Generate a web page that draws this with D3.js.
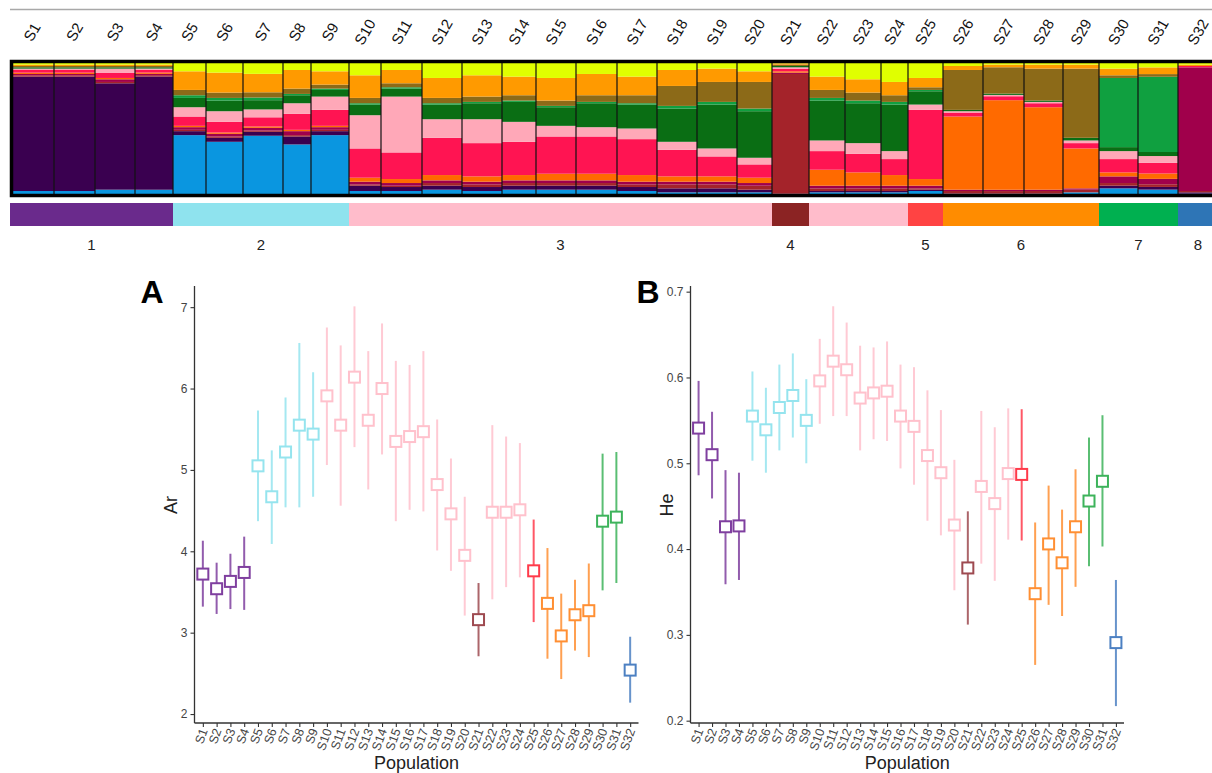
<!DOCTYPE html>
<html>
  <head>
    <meta charset="utf-8">
    <title>Structure, Ar and He</title>
    <script src="https://cdn.jsdelivr.net/npm/d3@7/dist/d3.min.js"></script>
    <style>
      body { margin: 0; background: #fff; }
      text { font-family: "Liberation Sans", Arial, sans-serif; }
    </style>
  </head>
  <body>
    <svg width="1212" height="773" id="mainsvg"></svg>
    <script>
      // ---- data ----
      const pops = d3.range(1, 33).map(i => 'S' + i);
      // relative width of each population in the structure plot (individuals)
      const nInd = [44,41,40,38,33,37,40,28,38,32,41,40,40,34,40,41,40,40,40,35,37,36,36,27,35,40,41,39,36,39,40,40];
      // genetic group of each population
      const groupOf = [1,1,1,1,2,2,2,2,2,3,3,3,3,3,3,3,3,3,3,3,4,3,3,3,5,6,6,6,6,7,7,8];
      const groupBarColors = ['#6a2a8c','#8fe3ee','#ffbccb','#8b2323','#ff4343','#ff8c00','#00b050','#2e75b6'];
      const groupPointColors = ['#7f3f9f','#95e4ee','#ffc1cc','#9e4a50','#ff3a4a','#ff8f33','#3db35b','#4c80c2'];

      // mean membership (per population) for each structure cluster, bottom to top
      const clusters = ['blue','purple','darkred','maroon','orangered','crimson','pink','darkgreen','green','olive','orange','yellow'];
      const clusterColors = ['#0a96e0','#3a0050','#a4232a','#a0004b','#ff6a00','#ff1452','#ffa8b8','#0a6e14','#10a040','#8c6a18','#ff9a00','#e0ff00'];
      const qBlue      = [.03,.03,.04,.04,.45,.40,.45,.38,.45,.03,.03,.04,.03,.04,.04,.04,.03,.02,.02,.02,.00,.02,.02,.02,.03,.01,.01,.01,.02,.05,.04,.01];
      const qPurple    = [.86,.86,.80,.86,.03,.03,.03,.06,.03,.04,.03,.03,.03,.03,.03,.03,.03,.03,.03,.02,.01,.01,.01,.01,.01,.00,.00,.00,.00,.02,.02,.01];
      const qDarkred   = [.01,.01,.01,.01,.01,.01,.01,.01,.01,.01,.01,.02,.02,.02,.02,.02,.02,.03,.03,.03,.90,.02,.02,.02,.01,.02,.02,.02,.02,.02,.02,.01];
      const qMaroon    = [.01,.01,.02,.01,.02,.02,.02,.03,.02,.02,.02,.02,.02,.02,.02,.02,.02,.02,.02,.02,.01,.02,.02,.02,.02,.01,.01,.01,.01,.05,.04,.93];
      const qOrangered = [.01,.01,.01,.01,.01,.01,.01,.01,.01,.03,.03,.04,.04,.04,.05,.05,.05,.04,.04,.04,.01,.12,.10,.08,.05,.55,.68,.62,.30,.03,.04,.00];
      const qCrimson   = [.02,.02,.04,.02,.07,.08,.07,.12,.12,.22,.20,.28,.25,.25,.28,.28,.27,.20,.15,.10,.02,.14,.14,.12,.52,.03,.03,.03,.04,.10,.08,.01];
      const qPink      = [.01,.01,.03,.01,.07,.08,.06,.08,.10,.25,.42,.14,.18,.15,.08,.07,.08,.06,.06,.05,.01,.08,.08,.06,.04,.01,.01,.01,.02,.06,.05,.00];
      const qDarkgreen = [.01,.01,.01,.01,.07,.08,.07,.06,.05,.08,.06,.11,.12,.15,.14,.18,.18,.25,.33,.35,.01,.30,.30,.35,.10,.01,.01,.01,.02,.03,.03,.00];
      const qGreen     = [.00,.00,.00,.00,.02,.02,.02,.01,.01,.01,.01,.01,.01,.01,.01,.01,.01,.02,.02,.02,.00,.02,.02,.02,.01,.00,.00,.00,.00,.52,.56,.00];
      const qOlive     = [.01,.01,.01,.01,.04,.04,.04,.04,.03,.04,.03,.04,.04,.04,.04,.05,.06,.15,.15,.20,.01,.06,.06,.05,.02,.30,.20,.24,.52,.02,.02,.00];
      const qOrange    = [.01,.01,.01,.01,.14,.15,.14,.14,.10,.17,.10,.15,.16,.14,.17,.16,.14,.12,.10,.08,.01,.10,.10,.10,.07,.03,.02,.03,.03,.05,.05,.01];
      const qYellow    = [.02,.02,.02,.02,.07,.08,.09,.06,.07,.10,.06,.12,.10,.11,.12,.09,.11,.06,.05,.07,.01,.11,.13,.15,.12,.03,.02,.02,.02,.05,.04,.02];
      const qAll = [qBlue,qPurple,qDarkred,qMaroon,qOrangered,qCrimson,qPink,qDarkgreen,qGreen,qOlive,qOrange,qYellow];

      // allelic richness (Ar) and expected heterozygosity (He): mean and interval
      const arMean = [3.72,3.54,3.63,3.74,5.05,4.67,5.22,5.55,5.44,5.91,5.55,6.14,5.61,6.00,5.35,5.41,5.47,4.82,4.46,3.95,3.16,4.48,4.48,4.51,3.76,3.36,2.96,3.22,3.27,4.37,4.42,2.54];
      const arLow  = [3.32,3.23,3.29,3.28,4.37,4.09,4.54,4.54,4.67,5.06,4.56,5.28,4.76,5.19,4.37,4.51,4.49,4.01,3.76,3.21,2.71,3.41,3.56,3.68,3.13,2.68,2.43,2.78,2.70,3.52,3.61,2.14];
      const arHigh = [4.13,3.86,3.97,4.18,5.73,5.24,5.89,6.56,6.20,6.75,6.53,7.01,6.46,6.80,6.34,6.29,6.46,5.62,5.14,4.67,3.61,5.55,5.41,5.33,4.39,4.04,3.48,3.65,3.85,5.20,5.22,2.95];
      const heMean = [0.541,0.510,0.426,0.427,0.555,0.539,0.565,0.579,0.550,0.596,0.619,0.609,0.576,0.582,0.584,0.555,0.543,0.509,0.489,0.428,0.378,0.473,0.453,0.488,0.487,0.348,0.406,0.384,0.426,0.456,0.479,0.291];
      const heLow  = [0.486,0.459,0.359,0.364,0.503,0.489,0.515,0.530,0.500,0.546,0.555,0.555,0.515,0.528,0.526,0.494,0.475,0.433,0.416,0.352,0.312,0.383,0.363,0.411,0.410,0.265,0.335,0.322,0.356,0.380,0.403,0.217];
      const heHigh = [0.596,0.560,0.492,0.489,0.607,0.588,0.615,0.628,0.598,0.645,0.683,0.664,0.637,0.635,0.642,0.615,0.612,0.585,0.562,0.504,0.444,0.561,0.542,0.564,0.563,0.431,0.474,0.446,0.493,0.530,0.556,0.364];
      const arTicks = [2,3,4,5,6,7];
      const heTicks = [0.2,0.3,0.4,0.5,0.6,0.7];

      const svg = d3.select('#mainsvg');

      // ---- structure plot ----
      const cum = [0];
      nInd.forEach((n, i) => cum.push(cum[i] + n));
      const sx = d3.scaleLinear().domain([0, cum[cum.length - 1]]).range([10, 1218]);
      const sy = d3.scaleLinear().domain([0, 1]).range([195, 62]);

      svg.append('line').attr('x1', 10).attr('x2', 1212).attr('y1', 9.5).attr('y2', 9.5)
        .attr('stroke', '#a8a8a8').attr('stroke-width', 1.5);

      const rows = pops.map((p, i) => {
        const r = {pop: p, i: i};
        clusters.forEach((c, k) => r[c] = qAll[k][i]);
        return r;
      });
      const stacked = d3.stack().keys(clusters).offset(d3.stackOffsetExpand)(rows);
      const sg = svg.append('g');
      sg.selectAll('g').data(stacked).join('g')
        .attr('fill', (d, k) => clusterColors[k])
        .selectAll('rect').data(d => d).join('rect')
        .attr('x', d => sx(cum[d.data.i]))
        .attr('width', d => sx(cum[d.data.i + 1]) - sx(cum[d.data.i]))
        .attr('y', d => sy(d[1]))
        .attr('height', d => sy(d[0]) - sy(d[1]));
      // population separators
      sg.selectAll('line.sep').data(cum.slice(1, -1)).join('line')
        .attr('class', 'sep')
        .attr('x1', d => sx(d)).attr('x2', d => sx(d))
        .attr('y1', 62).attr('y2', 195)
        .attr('stroke', '#111').attr('stroke-width', 1.2);
      svg.append('rect').attr('x', 11.5).attr('y', 61.5).attr('width', 1212).attr('height', 134)
        .attr('fill', 'none').attr('stroke', '#000').attr('stroke-width', 3.5);
      // population labels
      svg.selectAll('text.plab').data(pops).join('text')
        .attr('class', 'plab')
        .attr('transform', (d, i) => `translate(${(sx(cum[i]) + sx(cum[i + 1])) / 2}, 32) rotate(-60)`)
        .attr('text-anchor', 'middle').attr('dy', '0.35em')
        .attr('font-size', 15).attr('fill', '#111')
        .text(d => d);

      // group colour band
      const runs = [];
      groupOf.forEach((g, i) => {
        const last = runs[runs.length - 1];
        if (last && last.g === g) { last.end = i + 1; }
        else { runs.push({g: g, start: i, end: i + 1}); }
      });
      svg.selectAll('rect.band').data(runs).join('rect')
        .attr('class', 'band')
        .attr('x', d => sx(cum[d.start]))
        .attr('width', d => sx(cum[d.end]) - sx(cum[d.start]))
        .attr('y', 203).attr('height', 23)
        .attr('fill', d => groupBarColors[d.g - 1]);
      const seen = new Set();
      const labelRuns = runs.filter(r => { if (seen.has(r.g)) return false; seen.add(r.g); return true; });
      svg.selectAll('text.glab').data(labelRuns).join('text')
        .attr('class', 'glab')
        .attr('x', d => (sx(cum[d.start]) + sx(cum[d.end])) / 2)
        .attr('y', 250)
        .attr('text-anchor', 'middle').attr('font-size', 15).attr('fill', '#222')
        .text(d => d.g);

      // ---- dot plots ----
      function panel(opt) {
        const x = d3.scalePoint().domain(pops).range([opt.x0, opt.x1]).padding(opt.pad);
        const y = d3.scaleLinear().domain(opt.ydom).range([723, 286]);
        const g = svg.append('g');

        const yAxis = g.append('g').attr('transform', `translate(${opt.x0},0)`)
          .call(d3.axisLeft(y).tickValues(opt.ticks).tickSize(4).tickSizeOuter(0).tickPadding(3)
            .tickFormat(opt.fmt));
        const xAxis = g.append('g').attr('transform', 'translate(0,723)')
          .call(d3.axisBottom(x).tickSize(4).tickSizeOuter(0).tickFormat(''));
        [yAxis, xAxis].forEach(a => {
          a.select('.domain').attr('stroke', '#333').attr('stroke-width', 1.3);
          a.selectAll('.tick line').attr('stroke', '#333').attr('stroke-width', 1.1);
          a.selectAll('.tick text').attr('font-size', 12).attr('fill', '#444')
            .attr('font-family', '"Liberation Sans", Arial, sans-serif');
        });
        // fix the x domain line so it spans the full range
        xAxis.select('.domain').attr('d', `M${opt.x0},0H${opt.x1}`);
        yAxis.select('.domain').attr('d', `M0,${y.range()[0]}V${y.range()[1]}`);

        g.selectAll('text.xt').data(pops).join('text')
          .attr('class', 'xt')
          .attr('transform', d => `translate(${x(d) + 1},729) rotate(-70)`)
          .attr('text-anchor', 'end').attr('dy', '0.35em')
          .attr('font-size', 12.5).attr('fill', '#444')
          .text(d => d);

        g.selectAll('line.err').data(pops).join('line')
          .attr('class', 'err')
          .attr('x1', d => x(d)).attr('x2', d => x(d))
          .attr('y1', (d, i) => y(opt.low[i])).attr('y2', (d, i) => y(opt.high[i]))
          .attr('stroke', (d, i) => groupPointColors[groupOf[i] - 1])
          .attr('stroke-opacity', 0.85).attr('stroke-width', 2);
        g.selectAll('rect.pt').data(pops).join('rect')
          .attr('class', 'pt')
          .attr('x', d => x(d) - 5.5).attr('y', (d, i) => y(opt.mean[i]) - 5.5)
          .attr('width', 11).attr('height', 11)
          .attr('fill', '#fff')
          .attr('stroke', (d, i) => groupPointColors[groupOf[i] - 1])
          .attr('stroke-width', 2);

        g.append('text').attr('x', (opt.x0 + opt.x1) / 2).attr('y', 769)
          .attr('text-anchor', 'middle').attr('font-size', 18).attr('fill', '#222')
          .text('Population');
        g.append('text').attr('transform', `translate(${opt.x0 - 18},505) rotate(-90)`)
          .attr('text-anchor', 'middle').attr('font-size', 18).attr('fill', '#222')
          .text(opt.ylab);
        g.append('text').attr('x', opt.x0 - 54).attr('y', 303)
          .attr('font-size', 32).attr('font-weight', 'bold').attr('fill', '#000')
          .text(opt.letter);
      }

      panel({x0: 194.5, x1: 638.5, pad: 0.605, ydom: [1.89, 7.26], ticks: arTicks, fmt: d3.format('d'),
             mean: arMean, low: arLow, high: arHigh, ylab: 'Ar', letter: 'A'});
      panel({x0: 690.5, x1: 1124, pad: 0.6, ydom: [0.1973, 0.7066], ticks: heTicks, fmt: d3.format('.1f'),
             mean: heMean, low: heLow, high: heHigh, ylab: 'He', letter: 'B'});
    </script>
  </body>
</html>
